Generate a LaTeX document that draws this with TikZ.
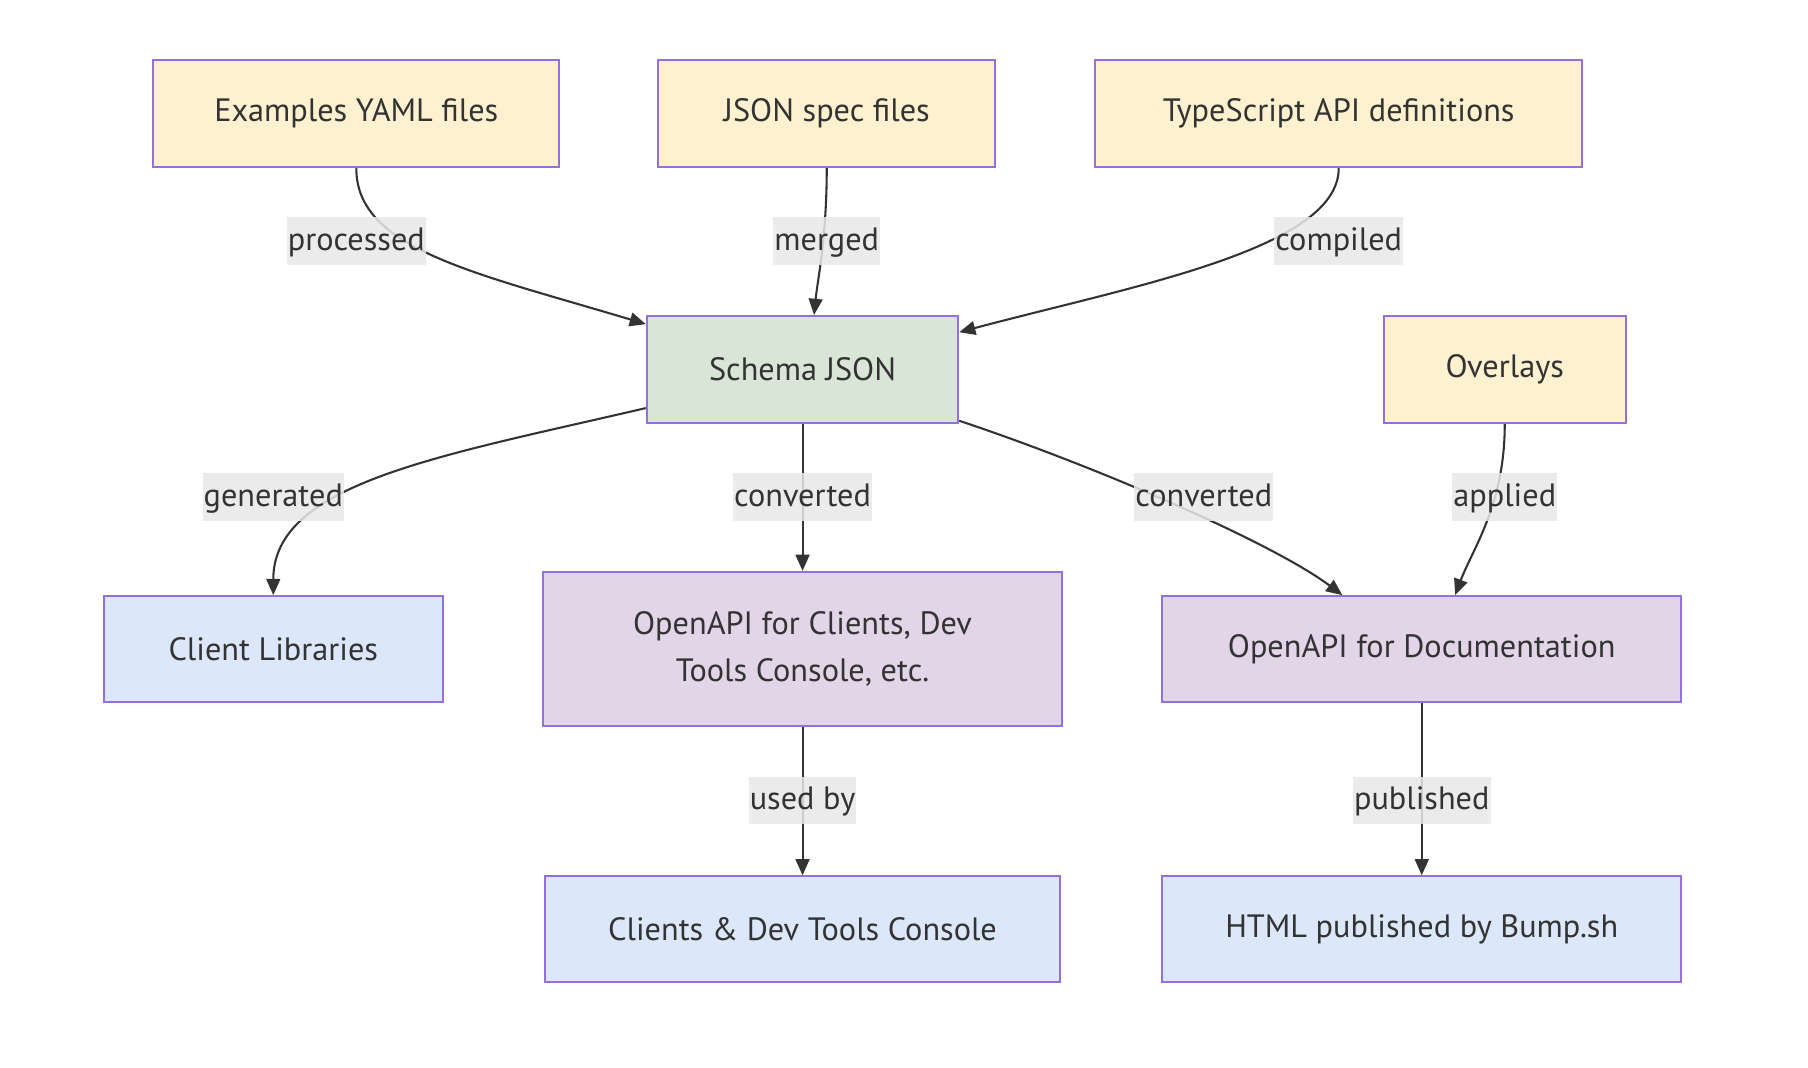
\documentclass[tikz,border=0pt]{standalone}
\usepackage{fontspec}
\setmainfont{PT Sans}
\usetikzlibrary{arrows.meta,calc}
\definecolor{txt}{HTML}{333333}
\definecolor{bord}{HTML}{9370DB}
\definecolor{cyel}{HTML}{FDF1D0}
\definecolor{cgrn}{HTML}{D9E6D7}
\definecolor{cpur}{HTML}{E1D5E7}
\definecolor{cblu}{HTML}{DCE7F9}
\definecolor{lblbg}{HTML}{E8E8E8}
\begin{document}
\begin{tikzpicture}[x=1pt,y=-1pt,
  box/.style={draw=bord, line width=1.8pt, text=txt, font=\fontsize{28}{41}\selectfont, align=center, inner sep=0pt},
  lbl/.style={fill=lblbg, fill opacity=0.85, text opacity=1, text=txt, font=\fontsize{28}{32}\selectfont, inner xsep=1pt, inner ysep=0pt, minimum height=41pt, text height=21pt, text depth=5pt},
  conn/.style={draw=txt, line width=1.8pt, -{Triangle[length=14pt,width=12pt]}}]
\useasboundingbox (0,0) rectangle (1568,926);
\fill[white] (0,0) rectangle (1568,926);
% nodes
\node[box, fill=cyel, minimum width=352pt, minimum height=93pt] (ex) at (309,98.5) {Examples YAML files};
\node[box, fill=cyel, minimum width=292pt, minimum height=93pt] (jsn) at (717,98.5) {JSON spec files};
\node[box, fill=cyel, minimum width=422pt, minimum height=93pt] (ts) at (1161,98.5) {TypeScript API definitions};
\node[box, fill=cgrn, minimum width=270pt, minimum height=93pt] (schema) at (696,320.5) {Schema JSON};
\node[box, fill=cyel, minimum width=210pt, minimum height=93pt] (ov) at (1305,320.5) {Overlays};
\node[box, fill=cblu, minimum width=294pt, minimum height=92pt] (cl) at (237,563) {Client Libraries};
\node[box, fill=cpur, minimum width=450pt, minimum height=134pt] (oac) at (696,563) {OpenAPI for Clients, Dev\\Tools Console, etc.};
\node[box, fill=cpur, minimum width=450pt, minimum height=92pt] (oad) at (1233,563) {OpenAPI for Documentation};
\node[box, fill=cblu, minimum width=446pt, minimum height=92pt] (cdt) at (696,806) {Clients \& Dev Tools Console};
\node[box, fill=cblu, minimum width=450pt, minimum height=92pt] (html) at (1233,806) {HTML published by Bump.sh};
% connectors
\draw[conn] (ex.south) .. controls +(0,70) and +(-150,-45) .. ($(schema.north west)+(0,8)$);
\draw[conn] (jsn.south) .. controls +(0,60) and +(3,-30) .. ($(schema.north)+(10,0)$);
\draw[conn] (ts.south) .. controls +(0,70) and +(150,-40) .. ($(schema.north east)+(0,15)$);
\draw[conn] ($(schema.south west)+(0,-14)$) .. controls +(-180,42) and +(0,-97) .. (cl.north);
\draw[conn] (schema.south) -- (oac.north);
\draw[conn] ($(schema.south east)+(0,-3)$) .. controls +(120,40) and +(-60,-45) .. ($(oad.north west)+(157,0)$);
\draw[conn] (ov.south) .. controls +(0,70) and +(15,-40) .. ($(oad.north)+(29,0)$);
\draw[conn] (oac.south) -- (cdt.north);
\draw[conn] (oad.south) -- (html.north);
% labels
\node[lbl] (l1) at (309,209) {processed};
\node[lbl] (l2) at (717,209) {merged};
\node[lbl] (l3) at (1161,209) {compiled};
\node[lbl] (l4) at (237,431) {generated};
\node[lbl] (l5) at (696,431) {converted};
\node[lbl] (l6) at (1044,431) {converted};
\node[lbl] (l7) at (1305,431) {applied};
\node[lbl] (l8) at (696,694) {used by};
\node[lbl] (l9) at (1233,694) {published};
\end{tikzpicture}
\end{document}
